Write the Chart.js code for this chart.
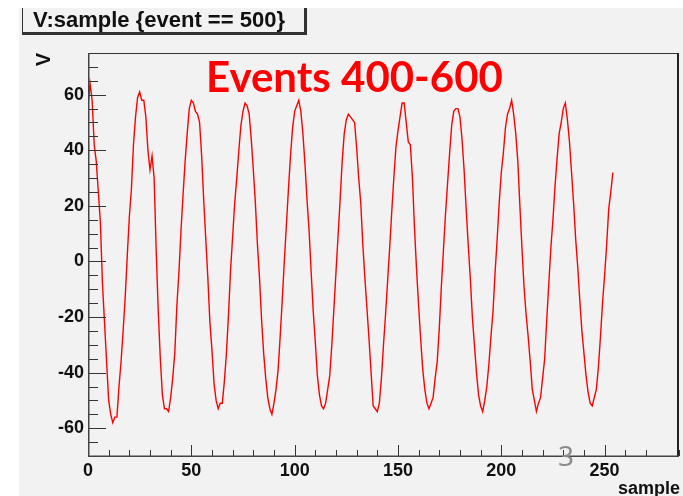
<!DOCTYPE html>
<html>
<head>
<meta charset="utf-8">
<script src="https://cdn.jsdelivr.net/npm/chart.js@4.4.1/dist/chart.umd.min.js"></script>
<style>
  html, body { margin: 0; padding: 0; background: #ffffff; overflow: hidden; }
  canvas { display: block; }
</style>
</head>
<body>
<canvas id="c" width="683" height="496"></canvas>
<script>
// Waveform V for each sample of event 500
const voltages = [
  56, 64, 58, 42, 36, 25, 14, -8, -22, -36,
  -50, -55, -58, -56, -56, -45, -36, -25, -13, 2,
  16, 26, 42, 52, 59, 61, 58, 58, 52, 40,
  33, 38, 30, 4, -18, -35, -48, -53, -53, -54,
  -49, -42, -33, -16, -4, 11, 24, 36, 46, 55,
  58, 57, 54, 53, 50, 38, 22, 8, -6, -22,
  -32, -44, -50, -53, -51, -51, -43, -33, -19, -3,
  9, 21, 30, 40, 49, 54, 57, 56, 53, 44,
  33, 21, 6, -6, -21, -33, -42, -49, -53, -55,
  -51, -46, -39, -27, -14, 0, 13, 26, 38, 48,
  54, 56, 58, 54, 46, 35, 22, 11, -4, -18,
  -29, -41, -48, -52, -53, -51, -46, -41, -30, -17,
  -4, 9, 22, 36, 46, 51, 53, 52, 51, 50,
  41, 30, 21, 6, -6, -17, -28, -40, -52, -53,
  -54, -51, -42, -30, -19, -7, 5, 18, 30, 41,
  47, 52, 57, 57, 50, 43, 42, 30, 12, -3,
  -16, -28, -39, -46, -51, -53, -51, -49, -42, -36,
  -24, -9, 4, 17, 28, 39, 49, 54, 55, 55,
  52, 44, 33, 19, 6, -6, -20, -30, -40, -48,
  -52, -54, -50, -45, -37, -27, -18, -4, 8, 21,
  32, 39, 48, 53, 55, 58, 53, 46, 36, 20,
  5, -9, -19, -27, -36, -46, -50, -54, -51, -49,
  -42, -35, -21, -8, 5, 15, 27, 37, 46, 50,
  55, 57, 51, 43, 32, 21, 8, -2, -14, -25,
  -33, -41, -47, -51, -52, -49, -46, -38, -27, -15,
  -5, 6, 19, 25, 32
];

// Axis ranges and tick spacing
const xRange = [0, 286];
const yRange = [-70, 75];
const xTickStep = 10, xLabelStep = 50;
const yTickStep = 5, yLabelStep = 20;

// Texts
const titleText = 'V:sample {event == 500}';
const xTitle = 'sample';
const yTitle = 'V';
const bannerText = 'Events 400-600';
const pageNumber = '3';

const points = voltages.map((v, i) => ({ x: i, y: v }));

const FONT = "'Liberation Sans', Arial, Helvetica, sans-serif";
const CANVAS_GRAY = '#f2f2f2';
const INK = '#111111';
const AXIS = '#333333';

// Page furniture: pad background, frame, inward ticks, titles
const rootStyle = {
  id: 'rootStyle',
  beforeDraw(chart) {
    const ctx = chart.ctx;
    ctx.save();
    ctx.fillStyle = '#ffffff';
    ctx.fillRect(0, 0, chart.width, chart.height);
    ctx.fillStyle = CANVAS_GRAY;
    ctx.fillRect(19, 8, chart.width - 19, chart.height - 8);
    ctx.restore();
  },
  afterDraw(chart) {
    const ctx = chart.ctx;
    const a = chart.chartArea;
    const xs = chart.scales.x, ys = chart.scales.y;
    ctx.save();

    // frame
    ctx.strokeStyle = AXIS;
    ctx.lineWidth = 1;
    ctx.strokeRect(a.left + 0.5, a.top + 0.5, a.right - a.left - 1, a.bottom - a.top);
    ctx.fillStyle = '#222';
    ctx.fillRect(a.right - 2, a.top, 2, a.bottom - a.top);

    // inward tick marks
    ctx.beginPath();
    ys.ticks.forEach(t => {
      const py = Math.round(ys.getPixelForValue(t.value)) + 0.5;
      const len = (Math.round(t.value) % yLabelStep === 0) ? 18 : 10;
      ctx.moveTo(a.left, py);
      ctx.lineTo(a.left + len, py);
    });
    xs.ticks.forEach(t => {
      const px = Math.round(xs.getPixelForValue(t.value)) + 0.5;
      const len = (Math.round(t.value) % xLabelStep === 0) ? 11 : 6;
      ctx.moveTo(px, a.bottom);
      ctx.lineTo(px, a.bottom - len);
    });
    ctx.stroke();

    // axis lines
    ctx.fillStyle = '#444';
    ctx.fillRect(a.left, a.top, 1.5, a.bottom - a.top + 1);
    ctx.fillRect(a.left, a.bottom - 0.5, a.right - a.left, 1.5);

    // title box with shadow
    ctx.fillStyle = CANVAS_GRAY;
    ctx.fillRect(22, 8, 284, 25);
    ctx.fillStyle = '#333';
    ctx.fillRect(22, 8, 1, 25);
    ctx.fillRect(22, 32, 285, 3);
    ctx.fillRect(304, 8, 3, 27);
    ctx.fillStyle = INK;
    ctx.font = 'bold 22px ' + FONT;
    ctx.textAlign = 'left';
    ctx.textBaseline = 'alphabetic';
    ctx.fillText(titleText, 33, 27);

    // axis titles
    ctx.font = 'bold 18px ' + FONT;
    ctx.textAlign = 'right';
    ctx.fillText(xTitle, 680, 494);
    ctx.save();
    ctx.translate(50, 53);
    ctx.rotate(-Math.PI / 2);
    ctx.font = 'bold 20px ' + FONT;
    ctx.textAlign = 'right';
    ctx.fillText(yTitle, 0, 0);
    ctx.restore();

    // banner
    ctx.fillStyle = '#ff0000';
    ctx.font = "bold 42px Lato, 'Open Sans', sans-serif";
    ctx.textAlign = 'left';
    ctx.fillText(bannerText, 206, 92);

    // page number
    ctx.fillStyle = '#8c8c8c';
    ctx.font = "28px 'Noto Sans', sans-serif";
    ctx.textAlign = 'center';
    ctx.fillText(pageNumber, 566, 466);

    ctx.restore();
  }
};

new Chart(document.getElementById('c'), {
  type: 'scatter',
  data: {
    datasets: [{
      data: points,
      showLine: true,
      borderColor: '#ff0000',
      borderWidth: 1.4,
      pointRadius: 0,
      tension: 0,
      fill: false
    }]
  },
  options: {
    responsive: false,
    animation: false,
    devicePixelRatio: 1,
    layout: { padding: { left: 0, top: 53, right: 1, bottom: 0 } },
    plugins: { legend: { display: false }, tooltip: { enabled: false }, title: { display: false } },
    scales: {
      x: {
        type: 'linear',
        min: xRange[0], max: xRange[1],
        grid: { display: false, drawTicks: false },
        border: { display: false },
        afterFit(s) { s.height = 40; },
        ticks: {
          stepSize: xTickStep,
          autoSkip: false,
          maxRotation: 0,
          padding: 4,
          color: INK,
          font: { family: FONT, weight: 'bold', size: 18 },
          callback: v => (v % xLabelStep === 0 ? String(v) : '')
        }
      },
      y: {
        type: 'linear',
        min: yRange[0], max: yRange[1],
        grid: { display: false, drawTicks: false },
        border: { display: false },
        afterFit(s) { s.width = 88; },
        ticks: {
          stepSize: yTickStep,
          autoSkip: false,
          padding: 4,
          color: INK,
          font: { family: FONT, weight: 'bold', size: 18 },
          callback: v => (v % yLabelStep === 0 ? String(v) : '')
        }
      }
    }
  },
  plugins: [rootStyle]
});
</script>
</body>
</html>
